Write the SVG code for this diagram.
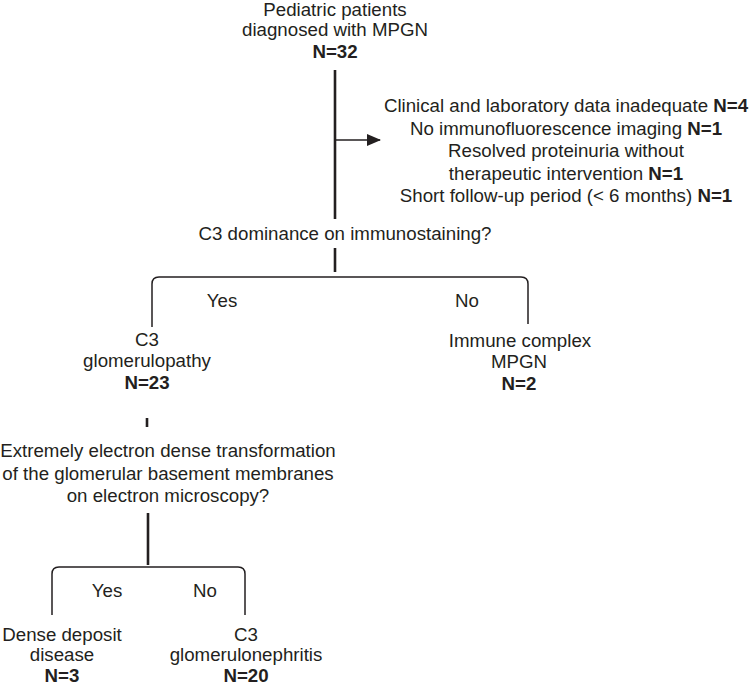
<svg xmlns="http://www.w3.org/2000/svg" width="750" height="686" viewBox="0 0 750 686">
<defs>
<style>
text{font-family:"Liberation Sans",Arial,sans-serif;font-size:18.7px;fill:#231f20;text-anchor:middle}
.b{font-weight:bold}
.ln{stroke:#231f20;fill:none;stroke-width:1.5}
.th{stroke:#231f20;fill:none;stroke-width:2.6}
</style>
<marker id="ah" markerWidth="14" markerHeight="12" refX="13" refY="6" orient="auto" markerUnits="userSpaceOnUse">
<path d="M0,0 L14,6 L0,12 Z" fill="#231f20"/>
</marker>
</defs>
<rect width="750" height="686" fill="#fff"/>
<g id="connectors">
<line class="th" x1="335" y1="70" x2="335" y2="219"/>
<line class="ln" x1="335" y1="140" x2="380" y2="140" marker-end="url(#ah)"/>
<line class="th" x1="335" y1="248" x2="335" y2="272"/>
<path class="ln" d="M152,327 L152,284 Q152,277 159,277 L521,277 Q528,277 528,284 L528,324"/>
<line class="th" x1="147" y1="418" x2="147" y2="427"/>
<line class="th" x1="148" y1="513" x2="148" y2="565"/>
<path class="ln" d="M52,615 L52,574 Q52,567 59,567 L238,567 Q245,567 245,574 L245,615"/>
</g>
<g id="start">
<text x="335" y="16">Pediatric patients</text>
<text x="335" y="36">diagnosed with MPGN</text>
<text x="335" y="58" class="b">N=32</text>
</g>
<g id="excluded">
<text x="566" y="112">Clinical and laboratory data inadequate <tspan class="b">N=4</tspan></text>
<text x="566" y="135">No immunofluorescence imaging <tspan class="b">N=1</tspan></text>
<text x="566" y="157">Resolved proteinuria without</text>
<text x="566" y="180">therapeutic intervention <tspan class="b">N=1</tspan></text>
<text x="566" y="202">Short follow-up period (&lt; 6 months) <tspan class="b">N=1</tspan></text>
</g>
<g id="q1">
<text x="345" y="240">C3 dominance on immunostaining?</text>
</g>
<g id="labels1">
<text x="222" y="307">Yes</text>
<text x="467" y="307">No</text>
</g>
<g id="c3g">
<text x="147" y="346">C3</text>
<text x="147" y="367">glomerulopathy</text>
<text x="147" y="389" class="b">N=23</text>
</g>
<g id="icmpgn">
<text x="520" y="347">Immune complex</text>
<text x="519" y="368">MPGN</text>
<text x="519" y="390" class="b">N=2</text>
</g>
<g id="q2">
<text x="168" y="457">Extremely electron dense transformation</text>
<text x="168" y="480">of the glomerular basement membranes</text>
<text x="168" y="502">on electron microscopy?</text>
</g>
<g id="labels2">
<text x="107" y="597">Yes</text>
<text x="205" y="597">No</text>
</g>
<g id="ddd">
<text x="62" y="641">Dense deposit</text>
<text x="62" y="661">disease</text>
<text x="62" y="682" class="b">N=3</text>
</g>
<g id="c3gn">
<text x="246" y="641">C3</text>
<text x="246" y="661">glomerulonephritis</text>
<text x="246" y="682" class="b">N=20</text>
</g>
</svg>
